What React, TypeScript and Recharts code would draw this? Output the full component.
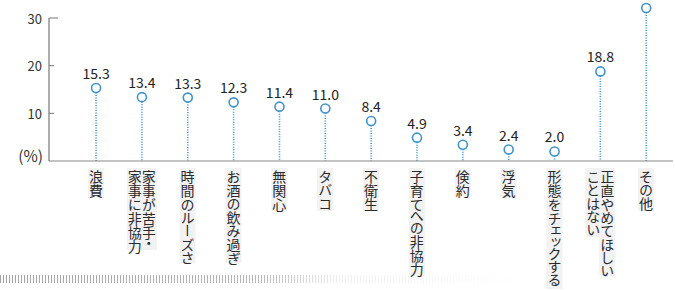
import React from "react";
import { ComposedChart, Bar, XAxis, YAxis, LabelList } from "recharts";

const categories = [
  "浪費",
  "家事が苦手・\n家事に非協力",
  "時間のルーズさ",
  "お酒の飲み過ぎ",
  "無関心",
  "タバコ",
  "不衛生",
  "子育てへの非協力",
  "倹約",
  "浮気",
  "形態をチェックする",
  "正直やめてほしい\nことはない",
  "その他",
];
const values = [15.3, 13.4, 13.3, 12.3, 11.4, 11.0, 8.4, 4.9, 3.4, 2.4, 2.0, 18.8, 32.1];
const yTicks = [0, 10, 20, 30];

const data = categories.map((name, i) => ({ name, value: values[i] }));

const FONT = "'Noto Sans CJK JP', 'Noto Sans', sans-serif";
const BLUE = "#3f93cc";

const YTick = (props: any) => {
  const { x, y, payload } = props;
  if (payload.value === 0) {
    return (
      <text x={x - 6} y={y - 6} textAnchor="end" dominantBaseline="central" fontSize={15.5} fill="#333" fontFamily={FONT}>
        (%)
      </text>
    );
  }
  return (
    <g>
      <line x1={x} x2={x + (payload.value === 30 ? 9 : 5)} y1={y} y2={y} stroke="#777" strokeWidth={1} />
      <text x={x - 7} y={y} textAnchor="end" dominantBaseline="central" fontSize={13} fill="#333" fontFamily={FONT}>
        {payload.value}
      </text>
    </g>
  );
};

const XTick = (props: any) => {
  const { x, y, payload } = props;
  const lines: string[] = String(payload.value).split("\n");
  const fs = 14;
  const gap = 14;
  return (
    <g>
      {lines.map((line, i) => {
        // first line is the right column, as in vertical Japanese text
        const cx = x + ((lines.length - 1) / 2 - i) * gap;
        const len = Array.from(line).length;
        return (
          <g key={i}>
            <rect x={cx - 8} y={y + 7} width={16} height={len * (fs - 1) + 4} fill="#f2f2f2" />
            <text
              x={cx}
              y={y + 9}
              fontSize={fs}
              fill="#2a2a2a"
              fontFamily={FONT}
              style={{ writingMode: "vertical-rl", fontFeatureSettings: '"vpal"' }}
            >
              {line}
            </text>
          </g>
        );
      })}
    </g>
  );
};

const Lollipop = (props: any) => {
  const { x, y, width, height } = props;
  const cx = x + width / 2;
  const r = 4.5;
  return (
    <g>
      <line x1={cx} x2={cx} y1={y + r} y2={y + height} stroke={BLUE} strokeWidth={1.6} strokeDasharray="1 1.5" />
      <circle cx={cx} cy={y} r={r} fill="#fff" stroke={BLUE} strokeWidth={1.6} />
    </g>
  );
};

export default function App() {
  return (
    <div style={{ position: "absolute", left: 0, top: 0, width: 675, height: 290, background: "#fff", overflow: "hidden" }}>
      <style>{`.chart-wrap svg [clip-path] { clip-path: none !important; }`}</style>
      <div className="chart-wrap">
        <ComposedChart width={675} height={290} data={data} margin={{ top: 18, right: 2, bottom: 0, left: 0 }}>
          <XAxis
            dataKey="name"
            interval={0}
            height={129}
            padding={{ left: 24, right: 4 }}
            axisLine={{ stroke: "#888", strokeWidth: 1.2 }}
            tickLine={false}
            tickSize={0}
            tickMargin={0}
            tick={<XTick />}
          />
          <YAxis
            type="number"
            domain={[0, 30]}
            allowDataOverflow
            ticks={yTicks}
            interval={0}
            width={49}
            axisLine={{ stroke: "#777", strokeWidth: 1.2 }}
            tickLine={false}
            tickSize={0}
            tickMargin={0}
            tick={<YTick />}
          />
          <Bar dataKey="value" shape={<Lollipop />} isAnimationActive={false}>
            <LabelList
              dataKey="value"
              position="top"
              offset={9}
              formatter={(v: any) => Number(v).toFixed(1)}
              fontSize={14}
              fill="#222"
              fontFamily={FONT}
            />
          </Bar>
        </ComposedChart>
      </div>
      <div
        style={{
          position: "absolute",
          left: 0,
          top: 275,
          width: 520,
          height: 8,
          background: "repeating-linear-gradient(90deg, #9a9a9a 0 1px, transparent 1px 3px)",
          WebkitMaskImage: "linear-gradient(90deg, rgba(0,0,0,0.9) 0, rgba(0,0,0,0.7) 260px, rgba(0,0,0,0.15) 340px, rgba(0,0,0,0) 520px)",
          maskImage: "linear-gradient(90deg, rgba(0,0,0,0.9) 0, rgba(0,0,0,0.7) 260px, rgba(0,0,0,0.15) 340px, rgba(0,0,0,0) 520px)",
        }}
      />
    </div>
  );
}
